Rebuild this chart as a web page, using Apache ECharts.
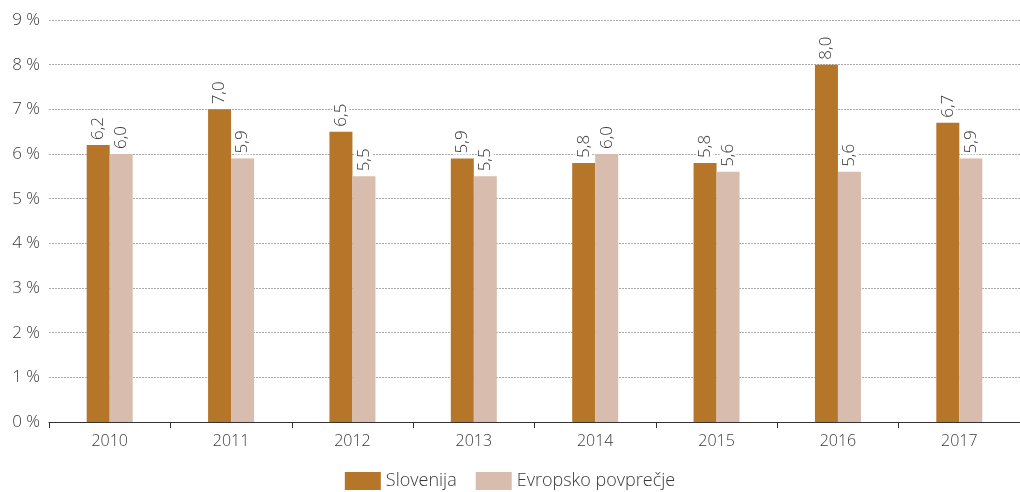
<!DOCTYPE html>
<html>
<head>
<meta charset="utf-8">
<script src="https://cdn.jsdelivr.net/npm/echarts@6/dist/echarts.min.js"></script>
<style>
  html, body { margin: 0; padding: 0; background: #fff; }
  #chart { width: 1020px; height: 492px; }
</style>
</head>
<body>
<div id="chart"></div>
<script>
// Years on the category axis
const years = ['2010', '2011', '2012', '2013', '2014', '2015', '2016', '2017'];
// Share in percent
const slovenija = [6.2, 7.0, 6.5, 5.9, 5.8, 5.8, 8.0, 6.7];
const evropskoPovprecje = [6.0, 5.9, 5.5, 5.5, 6.0, 5.6, 5.6, 5.9];
const seriesNames = ['Slovenija', 'Evropsko povprečje'];

const FONT = '"Open Sans", "Noto Sans", sans-serif';
const TEXT = '#3a3a3a';
const WEIGHT = 300;

const fmt = v => v.toFixed(1).replace('.', ',');

function barLabel() {
  return {
    show: true,
    position: 'top',
    rotate: 90,
    align: 'left',
    verticalAlign: 'middle',
    distance: 4,
    color: TEXT,
    fontFamily: FONT,
    fontWeight: WEIGHT,
    fontSize: 17,
    backgroundColor: '#fff',
    padding: [0, 1],
    formatter: p => fmt(p.value)
  };
}

const chart = echarts.init(document.getElementById('chart'));
chart.setOption({
  animation: false,
  textStyle: { fontFamily: FONT },
  grid: { left: 49, right: 0, top: 20, bottom: 70 },
  legend: {
    top: 467,
    left: 'center',
    itemWidth: 36,
    itemHeight: 18,
    itemGap: 19,
    icon: 'rect',
    textStyle: { color: TEXT, fontFamily: FONT, fontWeight: WEIGHT, fontSize: 18 },
    data: seriesNames
  },
  xAxis: {
    type: 'category',
    data: years,
    axisLine: { lineStyle: { color: '#333', width: 1.2 } },
    axisTick: { show: true, length: 6, lineStyle: { color: '#333' } },
    axisLabel: { color: TEXT, fontFamily: FONT, fontWeight: WEIGHT, fontSize: 16, margin: 11 }
  },
  yAxis: {
    type: 'value',
    min: 0,
    max: 9,
    interval: 1,
    axisLine: { show: false },
    axisTick: { show: false },
    splitLine: { lineStyle: { color: '#aaa', type: [2, 1], width: 1 } },
    axisLabel: {
      color: TEXT,
      fontFamily: FONT,
      fontWeight: WEIGHT,
      fontSize: 17,
      margin: 9,
      formatter: v => v + ' %'
    }
  },
  series: [
    {
      name: seriesNames[0],
      type: 'bar',
      data: slovenija,
      barWidth: 23,
      barGap: '0%',
      itemStyle: { color: '#B5762A' },
      label: barLabel()
    },
    {
      name: seriesNames[1],
      type: 'bar',
      data: evropskoPovprecje,
      barWidth: 23,
      barGap: '0%',
      itemStyle: { color: '#D8BCAD' },
      label: barLabel()
    }
  ]
});
</script>
</body>
</html>
